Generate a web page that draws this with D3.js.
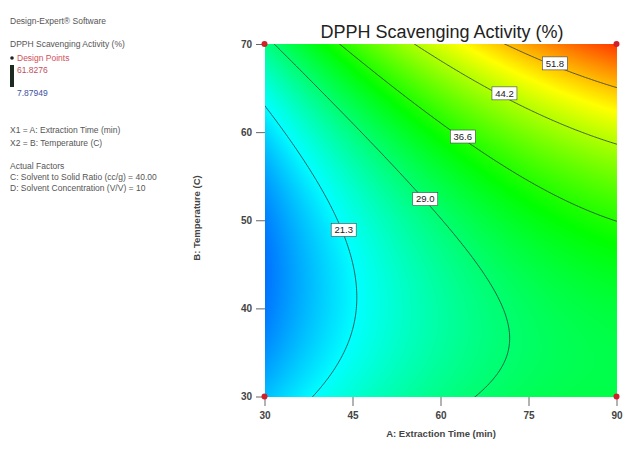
<!DOCTYPE html>
<html lang="en">
<head>
  <meta charset="UTF-8">
  <title>DPPH Scavenging Activity contour</title>
  <script src="https://d3js.org/d3.v7.min.js"></script>
  <style>
    body { margin: 0; background: #fff; font-family: "Liberation Sans", Arial, sans-serif; }
    .side text { font-size: 8.5px; fill: #555; }
    .tick text { font-size: 10px; font-weight: bold; fill: #444; }
  </style>
</head>
<body>
  <div id="chart"></div>

  <script>
    const width = 634, height = 465;

    // axis ranges and ticks
    const aDomain = [30, 90];
    const bDomain = [30, 70];
    const xTicks = [30, 45, 60, 75, 90];
    const yTicks = [30, 40, 50, 60, 70];

    // contour levels and where their labels sit (A, B)
    const levels = [21.3, 29.0, 36.6, 44.2, 51.8];
    const labelA = [43.5, 57.4, 63.8, 70.9, 79.5];
    const labelB = [48.9, 52.4, 59.5, 64.4, 67.8];

    // points (A, B)
    const trace213 = [[30.1, 63.1], [36.1, 57.2], [40.7, 52.3], [44.7, 46.7], [45.6, 41.3], [43.6, 35.7], [38.4, 30.0]];
    const trace290 = [[31.8, 69.9], [42.9, 62.9], [49.7, 58.7], [53.1, 54.8], [57.2, 51.7], [61.7, 48.5],
                      [66.9, 44.4], [70.8, 40.2], [72.0, 36.4], [70.8, 33.4], [66.3, 30.0]];
    const trace366 = [[42.9, 69.9], [53.1, 64.0], [58.8, 61.4], [63.8, 59.5], [70.1, 56.5], [80.4, 52.5], [90.0, 50.0]];
    const trace442 = [[54.8, 69.9], [63.3, 67.1], [70.9, 64.4], [73.6, 63.7], [80.4, 60.4], [90.0, 58.5]];
    const trace518 = [[69.8, 69.9], [79.5, 67.8], [82.1, 67.1], [90.0, 64.8]];
    const traces = [trace213, trace290, trace366, trace442, trace518];

    // design points shown on this slice
    const designA = [30, 90, 30, 90];
    const designB = [30, 30, 70, 70];

    const respMin = 7.87949, respMax = 61.8276;

    const x = d3.scaleLinear().domain(aDomain).range([264.5, 616.5]);
    const y = d3.scaleLinear().domain(bDomain).range([396.5, 44]);

    // quadratic response surface fitted to the traced contours (coded units)
    const terms = (A, B) => {
      const a = (A - 60) / 30, b = (B - 50) / 20;
      return [1, a, b, a * a, b * b, a * b];
    };
    function fitQuadratic() {
      const n = 6;
      const M = Array.from({ length: n }, () => new Array(n + 1).fill(0));
      traces.forEach((pts, li) => pts.forEach(([A, B]) => {
        const r = terms(A, B);
        for (let i = 0; i < n; i++) {
          for (let j = 0; j < n; j++) M[i][j] += r[i] * r[j];
          M[i][n] += r[i] * levels[li];
        }
      }));
      for (let c = 0; c < n; c++) {
        let p = c;
        for (let r = c + 1; r < n; r++) if (Math.abs(M[r][c]) > Math.abs(M[p][c])) p = r;
        [M[c], M[p]] = [M[p], M[c]];
        for (let r = 0; r < n; r++) {
          if (r === c) continue;
          const f = M[r][c] / M[c][c];
          for (let k = c; k <= n; k++) M[r][k] -= f * M[c][k];
        }
      }
      return M.map((row, i) => row[n] / row[i]);
    }
    const coef = fitQuadratic();
    const model = (A, B) => d3.sum(terms(A, B), (v, i) => v * coef[i]);

    const t = v => (v - respMin) / (respMax - respMin);
    const color = d3.scaleLinear()
        .domain([0, 0.25, 0.5, 0.75, 1])
        .range(["#0000ff", "#00ffff", "#00ff00", "#ffff00", "#ff0000"])
        .clamp(true);

    const svg = d3.select("#chart").append("svg")
        .attr("width", width)
        .attr("height", height);

    // === colour raster ===
    const x0 = Math.round(x.range()[0]), x1 = Math.round(x.range()[1]);
    const y0 = Math.round(y.range()[1]), y1 = Math.round(y.range()[0]);
    const cw = x1 - x0, ch = y1 - y0;
    const canvas = document.createElement("canvas");
    canvas.width = cw; canvas.height = ch;
    const ctx = canvas.getContext("2d");
    const img = ctx.createImageData(cw, ch);
    for (let j = 0; j < ch; j++) {
      for (let i = 0; i < cw; i++) {
        const c = d3.rgb(color(t(model(x.invert(x0 + i + 0.5), y.invert(y0 + j + 0.5)))));
        const k = (j * cw + i) * 4;
        img.data[k] = c.r; img.data[k + 1] = c.g; img.data[k + 2] = c.b; img.data[k + 3] = 255;
      }
    }
    ctx.putImageData(img, 0, 0);

    svg.append("image")
        .attr("x", x0).attr("y", y0)
        .attr("width", cw).attr("height", ch)
        .attr("href", canvas.toDataURL());

    svg.append("defs").append("clipPath").attr("id", "plotClip")
      .append("rect")
        .attr("x", x0).attr("y", y0).attr("width", cw).attr("height", ch);

    // === contour lines ===
    const step = 0.25, gA0 = 28, gB0 = 28;
    const nx = Math.round((92 - gA0) / step) + 1;
    const ny = Math.round((72 - gB0) / step) + 1;
    const grid = new Array(nx * ny);
    for (let j = 0; j < ny; j++)
      for (let i = 0; i < nx; i++)
        grid[j * nx + i] = model(gA0 + i * step, gB0 + j * step);

    const contours = d3.contours().size([nx, ny]).thresholds(levels)(grid);
    const toPx = d3.geoTransform({
      point(px, py) {
        this.stream.point(x(gA0 + (px - 0.5) * step), y(gB0 + (py - 0.5) * step));
      }
    });

    svg.append("g")
        .attr("clip-path", "url(#plotClip)")
      .selectAll("path")
      .data(contours)
      .join("path")
        .attr("d", d3.geoPath(toPx))
        .attr("fill", "none")
        .attr("stroke", "#2a3a3a")
        .attr("stroke-width", 0.8);

    // === contour labels ===
    const labels = svg.append("g")
      .selectAll("g")
      .data(levels)
      .join("g")
        .attr("transform", (d, i) => `translate(${x(labelA[i])},${y(labelB[i])})`);

    labels.append("rect")
        .attr("x", -12.5).attr("y", -6.5)
        .attr("width", 25).attr("height", 13)
        .attr("fill", "#fff")
        .attr("stroke", "#444")
        .attr("stroke-width", 0.6);

    labels.append("text")
        .attr("text-anchor", "middle")
        .attr("dy", "0.35em")
        .attr("font-size", "9.5px")
        .attr("fill", "#222")
        .text(d => d.toFixed(1));

    // === axes ===
    const xAxis = svg.append("g")
        .attr("transform", `translate(0,${y1})`)
        .call(d3.axisBottom(x).tickValues(xTicks).tickSize(9).tickPadding(6));
    const yAxis = svg.append("g")
        .attr("transform", `translate(${x0},0)`)
        .call(d3.axisLeft(y).tickValues(yTicks).tickSize(9).tickPadding(4));
    [xAxis, yAxis].forEach(g => {
      g.select(".domain").remove();
      g.selectAll(".tick line").attr("stroke", "#666");
    });

    // design points
    svg.append("g")
      .selectAll("circle")
      .data(designA)
      .join("circle")
        .attr("cx", d => x(d))
        .attr("cy", (d, i) => y(designB[i]))
        .attr("r", 3)
        .attr("fill", "#d0202a");

    // titles
    svg.append("text")
        .attr("x", 442).attr("y", 38)
        .attr("text-anchor", "middle")
        .attr("font-size", "18px")
        .attr("fill", "#222")
        .text("DPPH Scavenging Activity (%)");

    svg.append("text")
        .attr("x", (x0 + x1) / 2).attr("y", 437)
        .attr("text-anchor", "middle")
        .attr("font-size", "9.5px")
        .attr("font-weight", "bold")
        .attr("fill", "#444")
        .text("A: Extraction Time (min)");

    svg.append("text")
        .attr("transform", "translate(200,218) rotate(-90)")
        .attr("text-anchor", "middle")
        .attr("font-size", "9.5px")
        .attr("font-weight", "bold")
        .attr("fill", "#444")
        .text("B: Temperature (C)");

    // === side legend ===
    const side = svg.append("g").attr("class", "side");
    const sideLines = [
      { text: "Design-Expert® Software", y: 23.5 },
      { text: "DPPH Scavenging Activity (%)", y: 47 },
      { text: "X1 = A: Extraction Time (min)", y: 133 },
      { text: "X2 = B: Temperature (C)", y: 146 },
      { text: "Actual Factors", y: 169 },
      { text: "C: Solvent to Solid Ratio  (cc/g) = 40.00", y: 180 },
      { text: "D: Solvent Concentration  (V/V) = 10", y: 191 }
    ];
    side.selectAll("text.line")
      .data(sideLines)
      .join("text")
        .attr("class", "line")
        .attr("x", 10)
        .attr("y", d => d.y)
        .text(d => d.text);

    side.append("circle").attr("cx", 12).attr("cy", 58).attr("r", 1.8).attr("fill", "#222");
    side.append("text").attr("x", 17).attr("y", 60.5).style("fill", "#d0505a").text("Design Points");
    side.append("rect").attr("x", 10).attr("y", 65).attr("width", 4).attr("height", 22).attr("fill", "#1d2a20");
    side.append("text").attr("x", 17).attr("y", 73).style("fill", "#c05060").text(respMax.toFixed(4));
    side.append("text").attr("x", 17).attr("y", 96).style("fill", "#4050a0").text(respMin.toFixed(5));
  </script>
</body>
</html>
